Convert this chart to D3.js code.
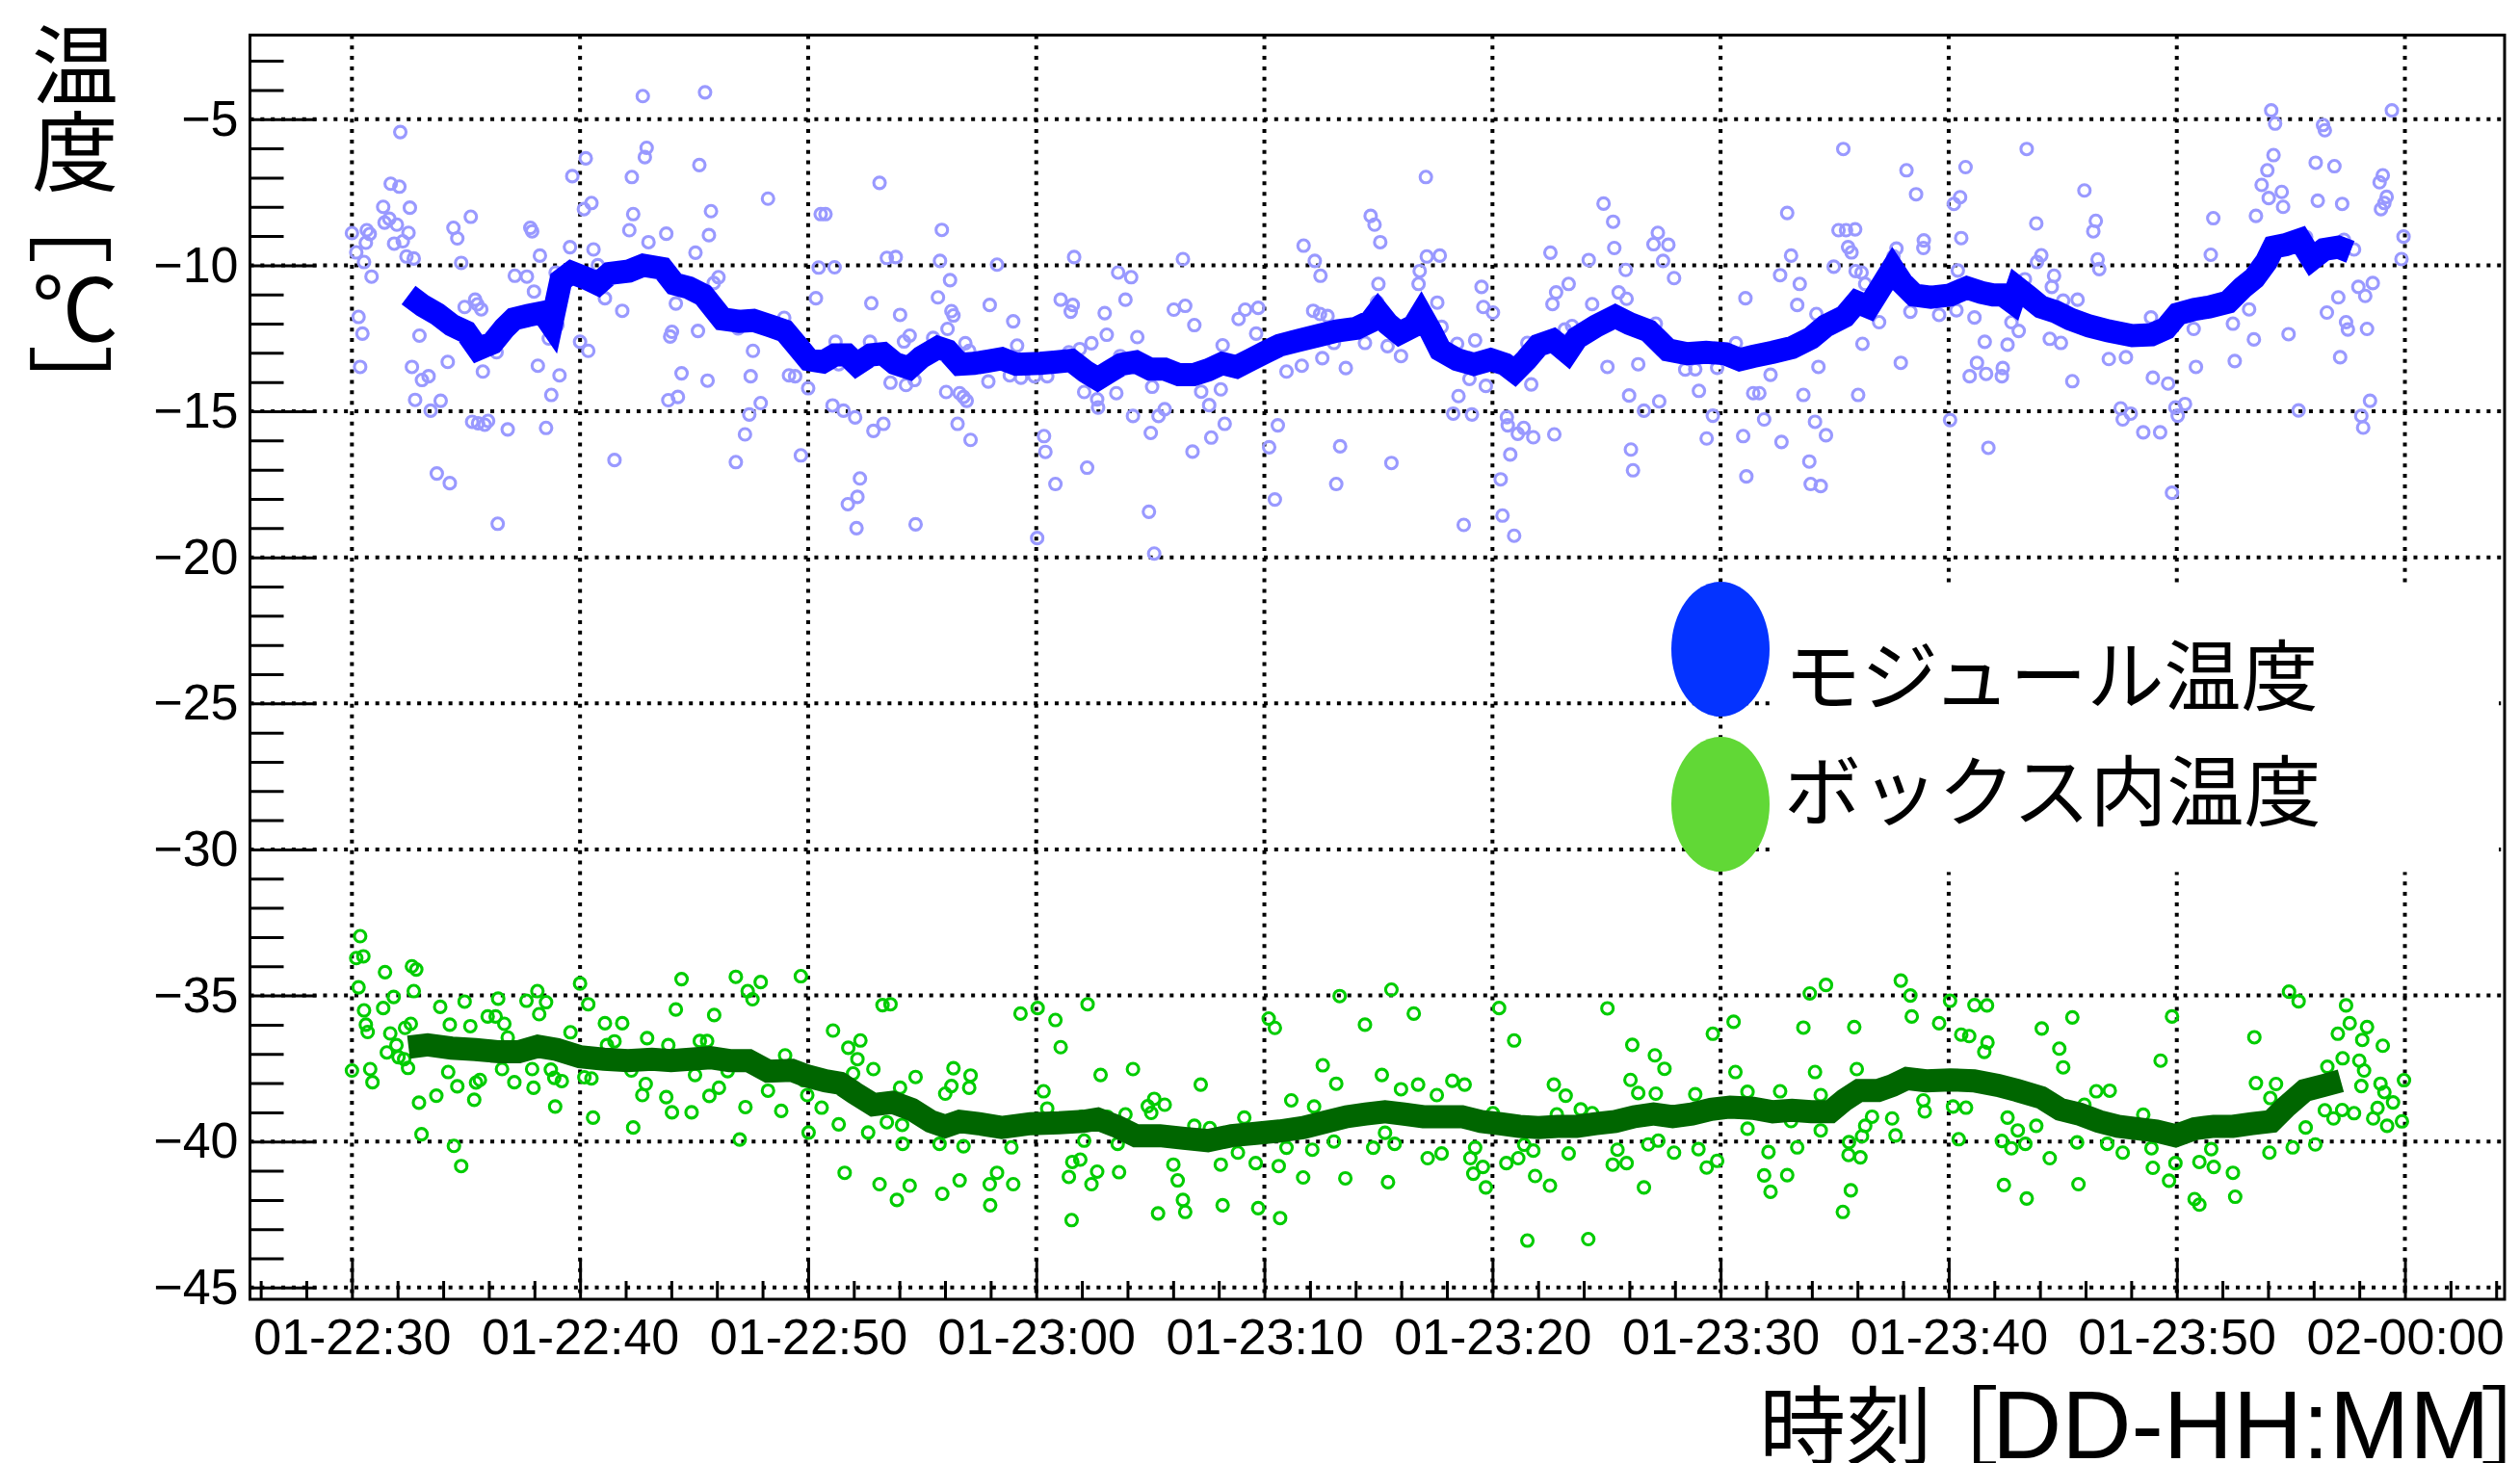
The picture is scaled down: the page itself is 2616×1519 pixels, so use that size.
<!DOCTYPE html>
<html>
<head>
<meta charset="utf-8">
<script src="https://cdn.jsdelivr.net/npm/d3@7"></script>
<style>
  html, body { margin: 0; padding: 0; background: #fff; }
  svg { display: block; }
</style>
</head>
<body>
<svg id="chart" width="2616" height="1519"></svg>
<script>
// Readings: [minutes after 01-22:30, temperature in °C]
const moduleReadings = [
[12.75,-4.21],[15.48,-4.08],[2.12,-5.44],[12.92,-5.98],[12.84,-6.30],[10.25,-6.34],[9.66,-6.95],[12.27,-6.98],[15.23,-6.57],[23.13,-7.18],
[18.24,-7.72],[1.70,-7.21],[2.08,-7.31],[1.37,-8.00],[2.54,-8.03],[10.50,-7.87],[10.17,-8.08],[15.74,-8.15],[12.33,-8.25],[20.55,-8.25],
[20.76,-8.25],[5.21,-8.34],[1.64,-8.41],[1.43,-8.54],[1.97,-8.61],[4.45,-8.72],[7.82,-8.72],[7.90,-8.84],[12.16,-8.80],[13.78,-8.92],
[15.65,-8.97],[25.86,-8.79],[0.00,-8.90],[0.65,-8.80],[0.78,-8.93],[2.48,-8.89],[4.62,-9.08],[0.61,-9.23],[1.85,-9.26],[2.23,-9.18],
[13.00,-9.21],[9.56,-9.38],[10.59,-9.46],[15.06,-9.57],[0.19,-9.56],[2.39,-9.70],[2.71,-9.77],[8.24,-9.67],[23.45,-9.75],[23.84,-9.72],
[25.78,-9.85],[0.53,-9.89],[4.79,-9.92],[10.78,-10.00],[20.46,-10.08],[21.16,-10.07],[28.28,-9.98],[0.86,-10.39],[7.14,-10.36],[7.67,-10.39],
[8.93,-10.25],[15.86,-10.61],[16.07,-10.41],[7.98,-10.90],[26.22,-10.51],[20.34,-11.13],[25.69,-11.10],[22.77,-11.30],[27.96,-11.36],[11.09,-11.13],
[5.40,-11.18],[5.50,-11.34],[4.94,-11.43],[5.67,-11.51],[11.85,-11.56],[14.20,-11.31],[24.03,-11.70],[26.28,-11.57],[26.37,-11.72],[0.29,-11.77],
[18.95,-11.80],[26.11,-12.18],[15.17,-12.25],[14.03,-12.28],[13.95,-12.44],[9.01,-12.05],[16.93,-12.16],[0.46,-12.34],[2.96,-12.41],[8.63,-12.51],
[24.45,-12.41],[24.20,-12.61],[21.20,-12.62],[22.71,-12.62],[26.89,-12.67],[25.48,-12.49],[27.06,-12.93],[10.00,-12.62],[10.36,-12.93],[17.58,-12.93],
[6.34,-12.98],[21.34,-13.39],[2.63,-13.48],[4.20,-13.31],[8.15,-13.44],[0.36,-13.48],[5.74,-13.64],[14.45,-13.70],[15.59,-13.95],[17.48,-13.80],
[19.16,-13.77],[19.43,-13.80],[9.10,-13.77],[3.36,-13.80],[3.07,-13.93],[23.61,-14.02],[24.29,-14.10],[24.66,-13.93],[27.90,-13.98],[8.74,-14.44],
[20.00,-14.21],[26.05,-14.34],[26.64,-14.38],[26.81,-14.51],[26.95,-14.64],[2.77,-14.61],[3.89,-14.64],[13.87,-14.62],[14.29,-14.51],[17.92,-14.72],
[21.07,-14.80],[3.45,-14.98],[21.55,-14.98],[22.06,-15.21],[17.42,-15.11],[5.27,-15.36],[5.53,-15.41],[5.82,-15.46],[5.97,-15.33],[6.83,-15.62],
[8.51,-15.57],[23.30,-15.43],[22.86,-15.67],[26.55,-15.43],[17.23,-15.79],[27.12,-15.98],[11.51,-16.67],[16.83,-16.74],[19.68,-16.51],[3.72,-17.13],
[4.29,-17.46],[22.27,-17.30],[22.16,-17.93],[21.74,-18.18],[6.39,-18.85],[22.12,-19.00],[24.71,-18.87],
[47.08,-6.98],[44.66,-8.31],[44.83,-8.61],[45.08,-9.21],[54.87,-7.89],[55.29,-8.51],[57.25,-8.89],[57.06,-9.28],[57.71,-9.30],[57.48,-9.85],
[41.72,-9.33],[42.21,-9.85],[42.46,-10.36],[31.66,-9.72],[36.43,-9.79],[47.12,-9.70],[47.69,-9.67],[52.54,-9.57],[54.22,-9.82],[55.34,-9.41],
[55.84,-10.16],[33.59,-10.25],[34.16,-10.41],[46.81,-10.20],[46.76,-10.64],[45.00,-10.64],[49.52,-10.74],[53.34,-10.64],[52.79,-10.93],[55.53,-10.93],
[57.96,-10.44],[61.09,-11.13],[31.07,-11.18],[31.60,-11.36],[31.51,-11.59],[33.91,-11.18],[33.00,-11.64],[36.03,-11.52],[36.53,-11.39],[36.93,-12.05],
[38.87,-11.84],[39.16,-11.52],[39.73,-11.46],[42.14,-11.56],[42.44,-11.67],[42.77,-11.74],[47.58,-11.28],[49.60,-11.43],[50.02,-11.62],[52.63,-11.33],
[54.37,-11.33],[55.88,-11.15],[28.99,-11.92],[33.09,-12.38],[34.43,-12.46],[39.64,-12.34],[44.94,-11.26],[47.77,-12.11],[57.16,-12.00],[53.17,-12.20],
[53.49,-12.08],[60.67,-12.67],[29.16,-12.75],[31.43,-12.98],[31.91,-12.87],[32.42,-12.67],[33.68,-13.11],[38.17,-12.74],[41.22,-12.49],[44.41,-12.66],
[45.40,-12.77],[45.99,-13.11],[42.54,-13.18],[43.05,-12.66],[48.45,-12.69],[49.24,-12.57],[51.53,-12.66],[28.84,-13.77],[29.33,-13.85],[30.48,-13.80],
[29.92,-13.80],[40.97,-13.64],[41.64,-13.44],[43.57,-13.52],[55.04,-13.48],[56.39,-13.39],[58.45,-13.57],[58.89,-13.56],[59.85,-13.51],[61.43,-14.38],
[32.10,-14.34],[32.67,-14.59],[32.71,-14.87],[33.51,-14.38],[35.08,-14.16],[37.23,-14.33],[38.09,-14.25],[37.58,-14.79],[48.99,-13.89],[49.71,-14.13],
[51.70,-14.08],[48.51,-14.48],[55.99,-14.46],[57.31,-14.66],[59.05,-14.30],[34.24,-15.16],[35.36,-15.16],[35.63,-14.93],[48.28,-15.08],[49.10,-15.11],
[56.64,-14.98],[59.66,-15.15],[30.34,-15.85],[30.40,-16.39],[35.02,-15.74],[37.67,-15.90],[36.85,-16.38],[38.26,-15.43],[40.59,-15.48],[40.21,-16.23],
[43.32,-16.20],[50.63,-15.20],[50.67,-15.48],[51.37,-15.57],[51.11,-15.77],[51.79,-15.89],[52.71,-15.79],[59.39,-15.93],[60.99,-15.85],[32.23,-16.93],
[30.84,-17.49],[40.46,-18.02],[43.15,-17.49],[45.57,-16.77],[50.78,-16.48],[50.36,-17.33],[56.07,-16.31],[56.16,-17.02],[61.13,-17.23],[30.04,-19.34],
[34.94,-18.44],[35.17,-19.87],[48.74,-18.89],[50.44,-18.57],[50.95,-19.26],
[65.38,-6.02],[73.42,-6.02],[68.15,-6.75],[68.57,-7.57],[70.74,-6.64],[62.92,-8.21],[70.50,-7.67],[70.23,-7.90],[75.95,-7.44],[73.84,-8.57],
[76.45,-8.48],[76.34,-8.84],[65.17,-8.80],[65.50,-8.80],[65.90,-8.77],[70.55,-9.07],[81.60,-8.39],[84.14,-4.70],[84.31,-5.15],[89.43,-4.70],
[86.41,-5.20],[86.49,-5.38],[84.24,-6.23],[83.97,-6.75],[83.72,-7.25],[84.60,-7.49],[84.03,-7.70],[84.66,-8.00],[83.47,-8.31],[86.09,-6.49],
[86.91,-6.61],[86.18,-7.79],[87.25,-7.90],[89.03,-6.92],[88.89,-7.16],[89.20,-7.66],[89.10,-7.87],[88.95,-8.08],[89.94,-9.02],[89.85,-9.79],
[85.67,-9.03],[87.33,-9.13],[87.77,-9.46],[65.59,-9.38],[65.74,-9.56],[67.71,-9.43],[67.58,-9.69],[68.91,-9.15],[68.89,-9.41],[63.09,-9.67],
[64.96,-10.05],[65.92,-10.20],[66.18,-10.25],[66.34,-10.64],[62.61,-10.34],[63.47,-10.64],[70.40,-10.18],[73.34,-10.48],[74.06,-9.66],[73.87,-9.89],
[74.62,-10.36],[74.52,-10.74],[76.53,-9.80],[76.60,-10.13],[81.49,-9.64],[87.96,-10.74],[88.59,-10.61],[88.26,-11.05],[87.08,-11.10],[63.36,-11.36],
[64.20,-11.67],[68.32,-11.59],[69.58,-11.70],[70.34,-11.54],[71.13,-11.79],[72.75,-11.95],[73.07,-12.25],[66.95,-11.95],[66.22,-12.69],[71.58,-12.62],
[72.58,-12.72],[75.65,-11.18],[75.02,-11.21],[74.43,-12.52],[74.92,-12.66],[78.87,-11.79],[80.74,-12.18],[82.46,-12.00],[83.17,-11.51],[83.38,-12.54],
[84.90,-12.36],[86.58,-11.62],[87.42,-11.95],[87.50,-12.20],[88.34,-12.18],[87.16,-13.15],[82.54,-13.28],[64.29,-13.48],[67.90,-13.34],[71.24,-13.34],
[70.92,-13.80],[71.64,-13.72],[72.37,-13.52],[72.33,-13.80],[62.19,-13.75],[61.70,-14.38],[63.63,-14.44],[66.03,-14.44],[75.42,-13.97],[77.02,-13.21],
[77.77,-13.15],[78.95,-13.85],[79.62,-14.05],[80.84,-13.48],[61.91,-15.28],[64.14,-15.36],[64.62,-15.82],[62.67,-16.05],[63.89,-16.72],[63.95,-17.49],
[64.39,-17.56],[70.06,-15.30],[71.74,-16.25],[77.54,-14.90],[77.63,-15.28],[77.98,-15.08],[78.53,-15.72],[79.27,-15.72],[79.94,-14.87],[80.04,-15.15],
[80.36,-14.75],[85.34,-14.97],[88.47,-14.64],[88.09,-15.16],[88.17,-15.56],[79.79,-17.79]
];

const moduleAverage = [
[2.48,-11.02],[3.11,-11.39],[3.74,-11.67],[4.37,-12.05],[5.00,-12.28],[5.53,-12.87],[6.16,-12.66],[6.68,-12.16],[7.10,-11.84],[7.73,-11.72],
[8.36,-11.62],[8.74,-12.05],[9.16,-10.52],[9.62,-10.25],[10.25,-10.44],[10.78,-10.64],[11.30,-10.28],[12.14,-10.20],[12.77,-10.00],[13.61,-10.11],
[14.14,-10.64],[14.77,-10.77],[15.40,-11.02],[15.82,-11.43],[16.24,-11.84],[16.97,-11.92],[17.60,-11.89],[18.34,-12.08],[18.97,-12.25],[19.50,-12.74],
[20.02,-13.23],[20.65,-13.31],[21.18,-13.07],[21.70,-13.07],[22.12,-13.39],[22.75,-13.07],[23.28,-13.03],[23.80,-13.36],[24.43,-13.52],[24.96,-13.15],
[25.69,-12.82],[26.11,-12.93],[26.64,-13.39],[27.27,-13.36],[27.90,-13.28],[28.49,-13.20],[29.12,-13.39],[30.17,-13.36],[30.90,-13.31],[31.53,-13.26],
[32.16,-13.64],[32.69,-13.89],[33.21,-13.64],[33.74,-13.39],[34.37,-13.31],[35.00,-13.56],[35.63,-13.56],[36.26,-13.75],[36.89,-13.75],[37.52,-13.59],
[38.15,-13.36],[38.78,-13.48],[39.41,-13.23],[40.04,-12.98],[40.67,-12.74],[41.51,-12.57],[42.35,-12.41],[43.19,-12.25],[44.03,-12.16],[44.66,-11.92],
[44.98,-11.59],[45.40,-12.00],[45.92,-12.33],[46.55,-12.08],[46.87,-11.67],[47.29,-12.25],[47.71,-12.90],[48.45,-13.23],[49.18,-13.39],[49.92,-13.23],
[50.55,-13.39],[50.97,-13.64],[51.49,-13.23],[52.02,-12.74],[52.65,-12.57],[53.28,-12.98],[53.70,-12.49],[54.54,-12.08],[55.38,-11.75],[56.01,-12.00],
[56.85,-12.25],[57.69,-12.90],[58.53,-13.03],[59.37,-12.98],[60.21,-13.03],[60.84,-13.23],[61.43,-13.12],[62.29,-12.98],[63.13,-12.82],[63.97,-12.49],
[64.60,-12.08],[65.44,-11.75],[65.97,-11.26],[66.49,-11.43],[67.02,-10.77],[67.54,-10.11],[67.96,-10.61],[68.49,-11.02],[69.22,-11.10],[70.06,-11.02],
[70.80,-10.77],[71.43,-10.93],[71.95,-11.02],[72.37,-11.02],[72.79,-11.26],[73.00,-10.77],[73.53,-11.10],[74.05,-11.43],[74.68,-11.59],[75.32,-11.84],
[76.16,-12.08],[77.00,-12.25],[78.05,-12.41],[78.89,-12.38],[79.52,-12.16],[80.04,-11.67],[80.78,-11.51],[81.41,-11.43],[82.25,-11.26],[82.88,-10.77],
[83.40,-10.44],[83.93,-9.87],[84.24,-9.38],[84.77,-9.30],[85.40,-9.13],[85.92,-9.79],[86.45,-9.46],[87.08,-9.38],[87.61,-9.54]
];

const boxReadings = [
[0.36,-32.97],[0.19,-33.72],[0.50,-33.66],[0.29,-34.72],[0.53,-35.51],[0.61,-36.00],[0.69,-36.25],[0.00,-37.57],[0.80,-37.52],[0.90,-37.97],
[1.45,-34.20],[1.37,-35.43],[1.83,-35.05],[1.68,-36.30],[1.53,-36.95],[1.95,-36.70],[2.04,-37.11],[2.29,-37.18],[2.46,-37.48],[2.33,-36.11],
[2.58,-35.97],[2.63,-34.00],[2.82,-34.11],[2.71,-34.85],[2.94,-38.67],[3.05,-39.75],[3.70,-38.43],[3.87,-35.39],[4.29,-36.00],[4.22,-37.62],
[4.62,-38.11],[4.47,-40.15],[4.79,-40.84],[4.94,-35.21],[5.19,-36.05],[5.36,-38.57],[5.44,-37.98],[5.61,-37.89],[5.95,-35.72],[6.30,-35.72],
[6.41,-35.11],[6.68,-35.97],[6.83,-36.44],[6.58,-37.52],[7.12,-37.97],[7.65,-35.18],[8.13,-34.85],[8.51,-35.23],[8.21,-35.64],[7.96,-38.16],
[7.90,-37.52],[8.72,-37.54],[8.87,-37.82],[9.20,-37.93],[8.91,-38.80],[9.58,-36.26],[10.00,-34.59],[10.36,-35.30],[10.19,-37.80],[10.50,-37.84],
[10.57,-39.18],[11.09,-35.95],[11.18,-36.70],[11.51,-36.57],[11.85,-35.95],[12.25,-37.57],[12.33,-39.52],[12.73,-38.41],[12.88,-38.03],[12.94,-36.46],
[13.78,-38.48],[14.03,-39.00],[13.87,-36.70],[14.20,-35.48],[14.45,-34.44],[14.89,-39.00],[15.04,-37.72],[15.25,-36.56],[15.57,-36.56],[15.67,-38.44],
[15.88,-35.67],[16.09,-38.16],[16.47,-37.59],[16.83,-34.36],[17.35,-34.85],[17.56,-35.13],[17.92,-34.54],[17.00,-39.93],[17.25,-38.82],[18.24,-38.26],
[18.82,-38.95],[18.99,-37.05],[19.68,-34.34],[19.81,-37.90],[19.96,-38.41],[20.02,-39.69],[20.59,-38.84],[21.09,-36.20],[21.34,-39.41],[21.60,-41.07],
[21.76,-36.79],[21.97,-37.67],[22.16,-37.18],[22.29,-36.54],[22.86,-37.52],[22.63,-39.69],[23.26,-35.33],[23.61,-35.30],[23.45,-39.34],[23.13,-41.46],
[23.89,-42.00],[24.45,-41.51],[24.03,-38.16],[24.71,-37.79],[24.12,-39.43],[24.14,-40.08],[25.76,-40.08],[25.88,-41.79],[26.01,-38.36],[26.28,-38.10],
[26.37,-37.49],[27.12,-37.74],[27.06,-38.16],[26.81,-40.16],[26.64,-41.33],[27.96,-41.46],[27.98,-42.18],[28.28,-41.07],
[29.31,-35.62],[30.06,-35.43],[30.84,-35.84],[31.07,-36.77],[32.25,-35.30],[32.82,-37.72],[34.24,-37.52],[30.32,-38.28],[30.48,-38.87],[32.00,-39.15],
[33.11,-39.15],[33.91,-39.07],[34.89,-38.79],[35.17,-38.54],[35.04,-39.02],[35.63,-38.74],[37.21,-38.05],[36.93,-39.46],[37.61,-39.54],[39.12,-39.18],
[28.99,-41.46],[28.91,-40.20],[31.58,-40.70],[31.93,-40.62],[31.43,-41.21],[32.67,-41.03],[32.42,-41.46],[33.63,-41.05],[32.10,-39.97],[33.57,-40.08],
[31.55,-42.69],[35.34,-42.46],[36.01,-40.79],[36.20,-41.33],[36.43,-42.00],[36.53,-42.41],[38.09,-40.79],[38.17,-42.18],[38.84,-40.38],[39.62,-40.74],
[39.73,-42.28],[40.63,-40.84],[40.69,-42.62],[40.19,-35.79],[40.46,-36.11],[40.97,-40.21],[41.18,-38.59],[41.70,-41.23],[42.18,-38.80],[42.10,-40.28],
[42.56,-37.39],[43.15,-38.02],[43.30,-35.02],[43.05,-40.00],[43.55,-41.26],[44.41,-36.00],[45.15,-37.72],[45.57,-34.80],[45.99,-38.21],[46.55,-35.62],
[46.74,-38.05],[47.56,-38.41],[48.24,-37.92],[48.78,-38.05],[44.77,-40.21],[45.29,-39.70],[45.71,-40.08],[45.42,-41.39],[47.16,-40.57],[47.77,-40.41],
[49.03,-40.57],[49.24,-40.21],[49.16,-41.10],[49.58,-40.87],[49.71,-41.57],[50.29,-35.43],[50.95,-36.54],[50.02,-39.03],[50.61,-40.74],[51.13,-40.57],
[51.39,-40.11],[51.79,-40.31],[51.87,-41.18],[52.52,-41.51],[51.53,-43.39],[54.20,-43.34],[52.69,-38.05],[53.21,-38.43],[52.82,-39.07],[53.87,-38.90],
[54.37,-39.03],[53.34,-40.41],[55.04,-35.44],[56.13,-36.69],[57.12,-37.05],[57.54,-37.51],[56.05,-37.89],[56.39,-38.34],[57.16,-38.36],[58.89,-38.38],
[59.66,-36.31],[60.57,-35.90],[60.65,-37.62],[61.18,-38.30],[61.18,-39.56],[55.27,-40.79],[55.88,-40.74],[55.48,-40.28],[56.83,-40.10],[57.27,-39.97],
[57.96,-40.38],[59.03,-40.26],[59.39,-40.89],[59.85,-40.66],[56.64,-41.57],
[63.91,-34.93],[64.62,-34.64],[67.90,-34.49],[68.32,-35.00],[68.38,-35.72],[69.58,-35.95],[70.06,-35.18],[71.13,-35.33],[71.68,-35.34],[70.55,-36.34],
[70.90,-36.39],[71.70,-36.61],[71.56,-36.93],[74.08,-36.13],[75.42,-35.75],[74.85,-36.82],[75.02,-37.46],[79.79,-35.72],[79.29,-37.23],[84.92,-34.87],
[85.34,-35.20],[87.42,-35.34],[87.06,-36.31],[87.58,-35.95],[88.34,-36.08],[88.13,-36.52],[89.03,-36.72],[83.40,-36.43],[63.63,-36.10],[65.86,-36.08],
[64.14,-37.62],[65.97,-37.52],[64.39,-38.41],[62.61,-38.28],[83.47,-38.00],[84.35,-38.03],[84.10,-38.51],[86.60,-37.44],[87.27,-37.15],[88.00,-37.23],
[88.21,-37.57],[88.09,-38.10],[89.96,-37.90],[88.93,-38.02],[89.10,-38.31],[89.48,-38.66],[89.87,-39.31],[89.22,-39.46],[88.61,-39.21],[88.80,-38.85],
[86.49,-38.93],[86.87,-39.21],[87.25,-38.92],[87.77,-39.03],[85.65,-39.52],[85.08,-40.20],[86.07,-40.10],[84.06,-40.38],[82.46,-41.07],[82.56,-41.89],
[80.78,-41.97],[80.99,-42.16],[79.66,-41.34],[78.95,-40.90],[78.89,-40.23],[79.94,-40.74],[80.99,-40.70],[81.62,-40.87],[81.51,-40.26],[78.53,-39.08],
[77.63,-40.38],[76.95,-40.08],[76.47,-38.28],[77.06,-38.26],[75.95,-38.74],[75.63,-40.03],[75.69,-41.46],[74.43,-40.57],[73.42,-41.95],[72.42,-41.49],
[72.58,-39.18],[73.03,-39.62],[73.84,-39.46],[73.36,-40.08],[72.75,-40.23],[72.33,-39.98],[70.44,-39.92],[70.19,-38.80],[70.76,-38.84],[68.95,-38.97],
[68.89,-38.59],[67.52,-39.21],[67.67,-39.79],[66.64,-39.15],[66.34,-39.46],[66.20,-39.82],[65.63,-40.02],[65.61,-40.46],[66.13,-40.54],[65.71,-41.67],
[65.36,-42.41],[64.39,-39.62],[63.36,-40.20],[63.09,-39.30],[62.10,-40.36],[61.91,-41.16],[62.19,-41.72],[62.92,-41.15]
];

const boxAverage = [
[2.48,-36.77],[3.32,-36.69],[4.37,-36.80],[5.42,-36.85],[6.47,-36.93],[7.31,-36.93],[8.15,-36.74],[8.99,-36.85],[10.00,-37.10],[11.05,-37.18],
[12.10,-37.23],[13.15,-37.18],[13.99,-37.23],[14.83,-37.18],[15.71,-37.13],[16.55,-37.23],[17.39,-37.23],[18.24,-37.59],[19.29,-37.56],[19.92,-37.75],
[20.76,-37.92],[21.39,-38.00],[22.02,-38.33],[22.86,-38.74],[23.70,-38.66],[24.54,-38.90],[25.38,-39.31],[26.01,-39.48],[26.64,-39.31],[27.48,-39.39],
[28.49,-39.52],[29.75,-39.39],[31.01,-39.36],[32.06,-39.31],[32.69,-39.23],[33.53,-39.48],[34.37,-39.80],[35.42,-39.80],[36.47,-39.89],[37.52,-39.97],
[38.57,-39.80],[39.62,-39.72],[40.67,-39.64],[41.72,-39.52],[42.77,-39.31],[43.61,-39.15],[44.45,-39.06],[45.29,-38.98],[46.13,-39.06],[46.97,-39.15],
[47.82,-39.15],[48.66,-39.15],[49.50,-39.31],[50.34,-39.39],[51.18,-39.48],[52.02,-39.52],[52.86,-39.48],[53.70,-39.48],[54.54,-39.39],[55.38,-39.31],
[56.22,-39.15],[57.06,-39.06],[57.90,-39.15],[58.74,-39.06],[59.58,-38.90],[60.42,-38.82],[61.43,-38.86],[62.29,-38.98],[63.13,-38.93],[63.97,-38.98],
[64.81,-38.98],[65.44,-38.57],[66.07,-38.25],[66.91,-38.25],[67.54,-38.08],[68.17,-37.84],[69.01,-37.92],[70.06,-37.89],[71.11,-37.92],[72.16,-38.08],
[73.00,-38.25],[74.05,-38.49],[74.89,-38.90],[75.74,-39.06],[76.58,-39.31],[77.42,-39.48],[78.26,-39.56],[79.10,-39.64],[79.94,-39.80],[80.78,-39.56],
[81.62,-39.48],[82.46,-39.48],[83.30,-39.39],[84.14,-39.31],[84.77,-38.82],[85.61,-38.25],[86.45,-38.08],[87.19,-37.92]
];

const yMajorTicks = [-5, -10, -15, -20, -25, -30, -35, -40, -45];
const xMajorMinutes = [0, 10, 20, 30, 40, 50, 60, 70, 80, 90];
const legendLabels = ["モジュール温度", "ボックス内温度"];
const xTitleParts = ["時刻", "［", "DD-HH:MM", "］"];
const yTitleParts = ["温度", "［", "℃", "］"];

// ---- layout ----
const W = 2616, H = 1519;
const frame = { left: 259.5, right: 2600, top: 36.4, bottom: 1349 };
const startUTC = Date.UTC(2000, 0, 1, 22, 30);   // 01-22:30
const toDate = m => new Date(startUTC + m * 60000);

const x = d3.scaleUtc()
  .domain([toDate(-4.47), toDate(94.37)])
  .range([frame.left, frame.right]);
const y = d3.scaleLinear()
  .domain([-45.4, -2.12])
  .range([frame.bottom, frame.top]);

const svg = d3.select("#chart");
svg.append("rect").attr("width", W).attr("height", H).attr("fill", "#fff");

const latin = "'Liberation Sans', Arial, Helvetica, sans-serif";
const cjk = "'Noto Sans CJK JP', 'Noto Sans CJK SC', sans-serif";

// ---- dotted grid ----
const grid = svg.append("g").attr("stroke", "#000").attr("stroke-width", 4)
  .attr("stroke-dasharray", "4 6.85").attr("fill", "none");
grid.selectAll("line.v").data(xMajorMinutes).join("line")
  .attr("x1", d => x(toDate(d))).attr("x2", d => x(toDate(d)))
  .attr("y1", frame.top).attr("y2", frame.bottom);
grid.selectAll("line.h").data(yMajorTicks).join("line")
  .attr("x1", frame.left).attr("x2", frame.right)
  .attr("y1", d => y(d)).attr("y2", d => y(d));

// ---- series ----
const plot = svg.append("g");
const line = d3.line().x(d => x(toDate(d[0]))).y(d => y(d[1]));

function drawSeries(readings, average, pointColor, lineColor) {
  plot.append("g").selectAll("circle").data(readings).join("circle")
    .attr("cx", d => x(toDate(d[0]))).attr("cy", d => y(d[1]))
    .attr("r", 6).attr("fill", "none")
    .attr("stroke", pointColor).attr("stroke-width", 3.1);
  plot.append("path").datum(average)
    .attr("d", line).attr("fill", "none")
    .attr("stroke", lineColor).attr("stroke-width", 24)
    .attr("stroke-linejoin", "miter").attr("stroke-miterlimit", 6)
    .attr("stroke-linecap", "butt");
}
drawSeries(moduleReadings, moduleAverage, "#9999ff", "#0000ff");
drawSeries(boxReadings, boxAverage, "#00cc00", "#006600");

// ---- legend ----
const legend = svg.append("g");
legend.append("rect")
  .attr("x", 1840).attr("y", 608.8).attr("width", 754).attr("height", 296.6)
  .attr("fill", "#fff");
const legendColors = ["#0433ff", "#61d836"];
legend.selectAll("ellipse").data(legendLabels).join("ellipse")
  .attr("cx", 1786).attr("cy", (d, i) => 674 + i * 161)
  .attr("rx", 51).attr("ry", 70)
  .attr("fill", (d, i) => legendColors[i]);
legend.selectAll("text").data(legendLabels).join("text")
  .attr("x", 1852).attr("y", (d, i) => 731 + i * 120)
  .style("font-family", cjk).style("font-size", "80px")
  .attr("fill", "#000")
  .text(d => d);

// ---- axes ----
const fmt = d3.utcFormat("%d-%H:%M");
svg.append("g").attr("transform", `translate(0,${frame.bottom})`)
  .call(d3.axisBottom(x)
    .tickValues(xMajorMinutes.map(toDate))
    .tickSize(-42).tickPadding(20).tickFormat(fmt));
const xMinor = d3.range(-4, 95, 2).filter(m => m % 10 !== 0);
svg.append("g").attr("transform", `translate(0,${frame.bottom})`)
  .call(d3.axisBottom(x).tickValues(xMinor.map(toDate)).tickSize(-19).tickFormat(""));

svg.append("g").attr("transform", `translate(${frame.left},0)`)
  .call(d3.axisLeft(y).tickValues(yMajorTicks).tickSize(-69).tickPadding(12)
    .tickFormat(d3.format("d")));
const yMinor = d3.range(-3, -45, -1).filter(v => v % 5 !== 0);
svg.append("g").attr("transform", `translate(${frame.left},0)`)
  .call(d3.axisLeft(y).tickValues(yMinor).tickSize(-35).tickFormat(""));

svg.selectAll(".domain").remove();
svg.selectAll(".tick line").attr("stroke", "#000").attr("stroke-width", 3);
svg.selectAll(".tick text")
  .style("font-family", latin).style("font-size", "52px").attr("fill", "#000");

// frame
svg.append("rect")
  .attr("x", frame.left).attr("y", frame.top)
  .attr("width", frame.right - frame.left).attr("height", frame.bottom - frame.top)
  .attr("fill", "none").attr("stroke", "#000").attr("stroke-width", 3);

// ---- axis titles ----
const xt = svg.append("text").attr("x", 1826).attr("y", 1514).attr("fill", "#000");
xt.append("tspan").style("font-family", cjk).style("font-size", "90px").text(xTitleParts[0]);
xt.append("tspan").attr("dx", -21).style("font-family", cjk).style("font-size", "90px").text(xTitleParts[1]);
xt.append("tspan").attr("x", 2068).style("font-family", latin).style("font-size", "100px").text(xTitleParts[2]);
xt.append("tspan").attr("dx", -10).style("font-family", cjk).style("font-size", "90px").text(xTitleParts[3]);

// vertical title: ideographs upright, brackets turned a quarter
const yt = svg.append("g").attr("fill", "#000")
  .style("font-family", cjk).style("font-size", "90px");
yt.append("text").attr("x", 78).attr("y", 22)
  .style("writing-mode", "vertical-rl").text(yTitleParts[0]);
yt.append("text").attr("text-anchor", "middle").attr("dominant-baseline", "central")
  .attr("transform", "translate(78,229) rotate(90)").text(yTitleParts[1]);
yt.append("text").attr("x", 78).attr("y", 314.5)
  .attr("text-anchor", "middle").attr("dominant-baseline", "central").text(yTitleParts[2]);
yt.append("text").attr("text-anchor", "middle").attr("dominant-baseline", "central")
  .attr("transform", "translate(78,403) rotate(90)").text(yTitleParts[3]);
</script>
</body>
</html>
